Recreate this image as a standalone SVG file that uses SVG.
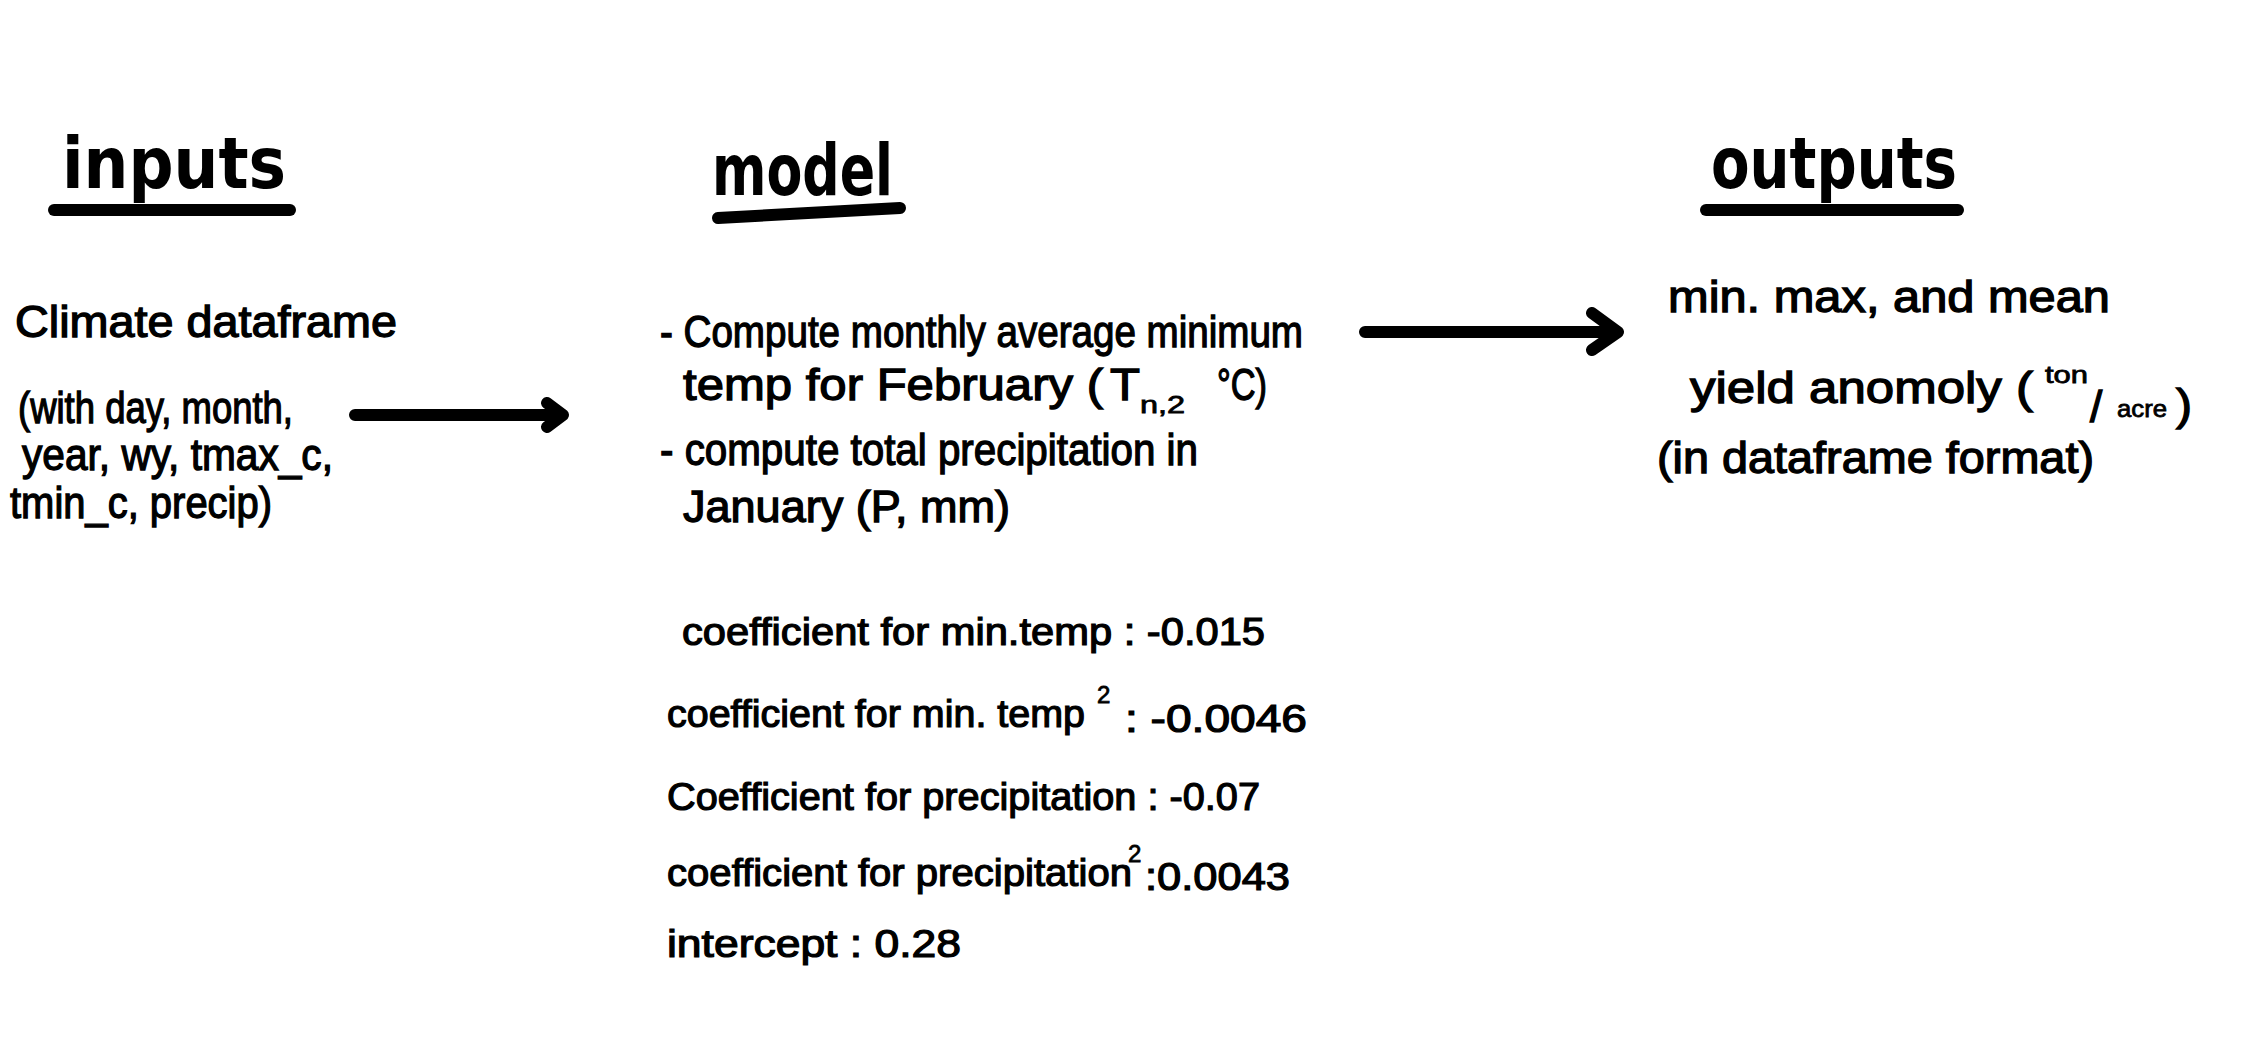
<svg xmlns="http://www.w3.org/2000/svg" width="2253" height="1040" viewBox="0 0 2253 1040">
<style>
.h{font-family:"DejaVu Sans","Liberation Sans",sans-serif;font-weight:bold;font-size:72px;fill:#000}
.t{font-family:"Liberation Sans","DejaVu Sans",sans-serif;font-size:44px;fill:#000;stroke:#000;stroke-width:1.3}
.c{font-family:"Liberation Sans","DejaVu Sans",sans-serif;font-size:38px;fill:#000;stroke:#000;stroke-width:1.2}
.s{font-family:"Liberation Sans","DejaVu Sans",sans-serif;font-size:24px;fill:#000;stroke:#000;stroke-width:0.8}
.u{stroke:#000;stroke-width:12;stroke-linecap:round;fill:none}
.a{stroke:#000;stroke-width:12;stroke-linecap:round;stroke-linejoin:round;fill:none}
</style>
<rect width="2253" height="1040" fill="#fff"/>
<g id="inputs">
<text class="h" x="62" y="188" textLength="224" lengthAdjust="spacingAndGlyphs">inputs</text>
<line class="u" x1="54" y1="210" x2="290" y2="210"/>
<text class="t" x="15" y="337" font-size="52" textLength="382" lengthAdjust="spacingAndGlyphs">Climate dataframe</text>
<text class="t" x="18" y="423" font-size="40" textLength="275" lengthAdjust="spacingAndGlyphs">(with day, month,</text>
<text class="t" x="22" y="470" font-size="40" textLength="311" lengthAdjust="spacingAndGlyphs">year, wy, tmax_c,</text>
<text class="t" x="10" y="518" font-size="40" textLength="262" lengthAdjust="spacingAndGlyphs">tmin_c, precip)</text>
</g>
<g id="model">
<text class="h" x="712" y="195" textLength="181" lengthAdjust="spacingAndGlyphs">model</text>
<line class="u" x1="718" y1="218" x2="900" y2="208"/>
<text class="t" x="660" y="347" textLength="643" lengthAdjust="spacingAndGlyphs">- Compute monthly average minimum</text>
<text class="t" x="683" y="400" textLength="420" lengthAdjust="spacingAndGlyphs">temp for February (</text>
<text class="t" x="1110" y="400" font-size="52" textLength="30" lengthAdjust="spacingAndGlyphs">T</text>
<text class="s" x="1140" y="413" textLength="45" lengthAdjust="spacingAndGlyphs">n,2</text>
<text class="t" x="1217" y="400" textLength="50" lengthAdjust="spacingAndGlyphs">°C)</text>
<text class="t" x="660" y="465" textLength="538" lengthAdjust="spacingAndGlyphs">- compute total precipitation in</text>
<text class="t" x="683" y="522" textLength="327" lengthAdjust="spacingAndGlyphs">January (P, mm)</text>
<text class="c" x="682" y="645" textLength="583" lengthAdjust="spacingAndGlyphs">coefficient for min.temp : -0.015</text>
<text class="c" x="667" y="727" textLength="418" lengthAdjust="spacingAndGlyphs">coefficient for min. temp</text>
<text class="s" x="1097" y="703">2</text>
<text class="c" x="1125" y="732" font-size="44" textLength="182" lengthAdjust="spacingAndGlyphs">: -0.0046</text>
<text class="c" x="667" y="810" textLength="593" lengthAdjust="spacingAndGlyphs">Coefficient for precipitation : -0.07</text>
<text class="c" x="667" y="886" textLength="465" lengthAdjust="spacingAndGlyphs">coefficient for precipitation</text>
<text class="s" x="1128" y="862">2</text>
<text class="c" x="1145" y="890" font-size="42" textLength="145" lengthAdjust="spacingAndGlyphs">:0.0043</text>
<text class="c" x="667" y="957" textLength="294" lengthAdjust="spacingAndGlyphs">intercept : 0.28</text>
</g>
<g id="outputs">
<text class="h" x="1711" y="188" textLength="246" lengthAdjust="spacingAndGlyphs">outputs</text>
<line class="u" x1="1706" y1="210" x2="1958" y2="210"/>
<text class="t" x="1668" y="312" font-size="50" textLength="442" lengthAdjust="spacingAndGlyphs">min. max, and mean</text>
<text class="t" x="1690" y="403" font-size="50" textLength="343" lengthAdjust="spacingAndGlyphs">yield anomoly (</text>
<text class="s" x="2045" y="383" font-size="30" textLength="43" lengthAdjust="spacingAndGlyphs">ton</text>
<text class="t" x="2090" y="422" font-size="58">/</text>
<text class="s" x="2117" y="417" font-size="32" textLength="50" lengthAdjust="spacingAndGlyphs">acre</text>
<text class="t" x="2176" y="420" font-size="66" textLength="16" lengthAdjust="spacingAndGlyphs">)</text>
<text class="t" x="1657" y="473" font-size="50" textLength="437" lengthAdjust="spacingAndGlyphs">(in dataframe format)</text>
</g>
<g id="connectors">
<path class="a" d="M355 415 H563 M547 403 L563 415 L547 427"/>
<path class="a" d="M1365 332 H1618 M1592 313 L1618 332 L1592 350"/>
</g>
</svg>
